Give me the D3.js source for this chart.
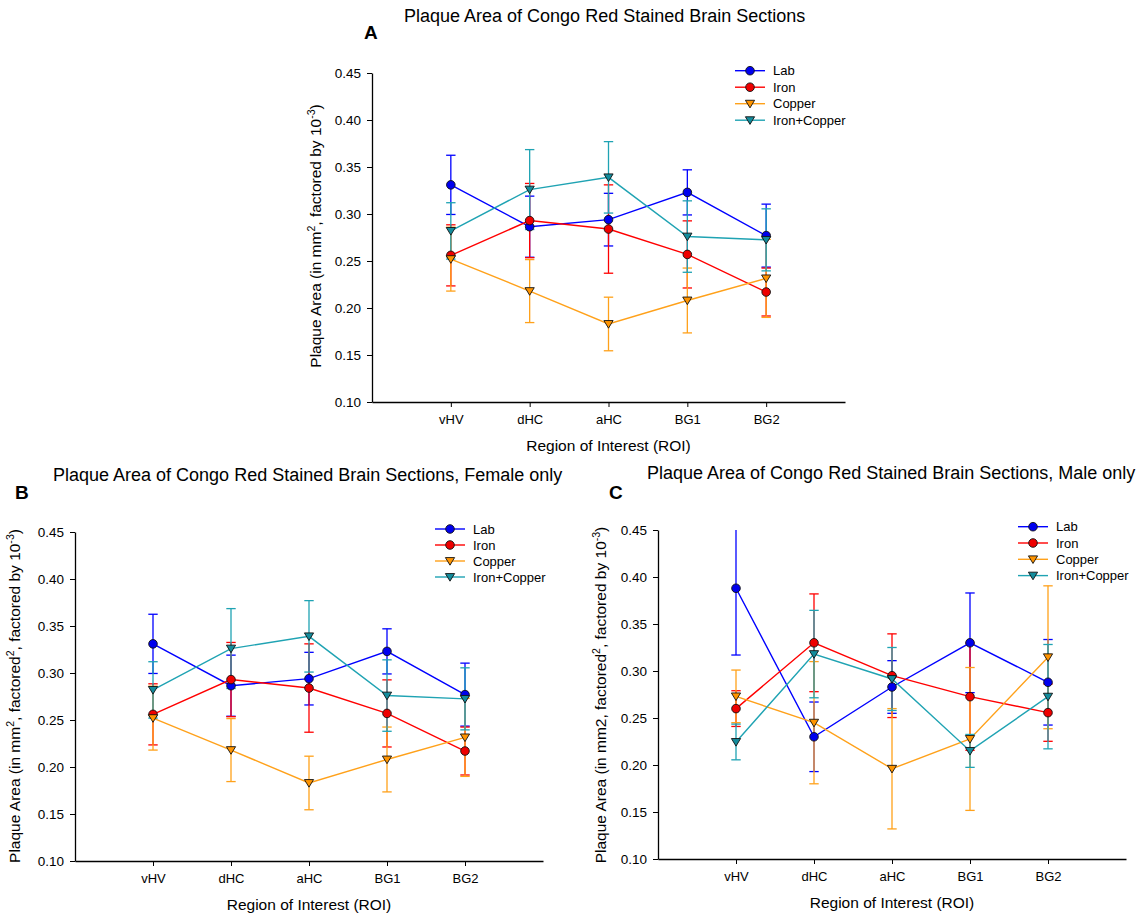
<!DOCTYPE html>
<html><head><meta charset="utf-8">
<script src="https://cdn.jsdelivr.net/npm/d3@7"></script>
<style>
html,body{margin:0;padding:0;background:#fff;}
svg{display:block;}
text{font-family:"Liberation Sans",Arial,sans-serif;fill:#000;}
</style></head>
<body>
<svg id="chart" width="1148" height="918"></svg>
<script>
// ---------- DATA ----------
const regions = ["vHV", "dHC", "aHC", "BG1", "BG2"];
const seriesNames = ["Lab", "Iron", "Copper", "Iron+Copper"];
const yTicks = [0.10, 0.15, 0.20, 0.25, 0.30, 0.35, 0.40, 0.45];

// All animals (panel A)
const allLab = [0.331, 0.2865, 0.294, 0.323, 0.277];
const allLabSE = [0.0315, 0.0325, 0.028, 0.024, 0.0335];
const allIron = [0.256, 0.293, 0.284, 0.257, 0.217];
const allIronSE = [0.0325, 0.0395, 0.047, 0.0357, 0.0255];
const allCopper = [0.252, 0.218, 0.183, 0.208, 0.2315];
const allCopperSE = [0.034, 0.0335, 0.0285, 0.0345, 0.0415];
const allIronCopper = [0.282, 0.326, 0.339, 0.276, 0.2725];
const allIronCopperSE = [0.030, 0.0425, 0.038, 0.038, 0.033];

// Female only (panel B) - same values as shown in the figure
const femLab = [0.331, 0.2865, 0.294, 0.323, 0.277];
const femLabSE = [0.0315, 0.0325, 0.028, 0.024, 0.0335];
const femIron = [0.256, 0.293, 0.284, 0.257, 0.217];
const femIronSE = [0.0325, 0.0395, 0.047, 0.0357, 0.0255];
const femCopper = [0.252, 0.218, 0.183, 0.208, 0.2315];
const femCopperSE = [0.034, 0.0335, 0.0285, 0.0345, 0.0415];
const femIronCopper = [0.282, 0.326, 0.339, 0.276, 0.2725];
const femIronCopperSE = [0.030, 0.0425, 0.038, 0.038, 0.033];

// Male only (panel C)
const maleLab = [0.388, 0.230, 0.283, 0.330, 0.288];
const maleLabSE = [0.071, 0.037, 0.028, 0.053, 0.0455];
const maleIron = [0.260, 0.330, 0.295, 0.2727, 0.2557];
const maleIronSE = [0.019, 0.052, 0.0445, 0.057, 0.0305];
const maleCopper = [0.273, 0.245, 0.196, 0.2277, 0.3146];
const maleCopperSE = [0.028, 0.065, 0.064, 0.076, 0.076];
const maleIronCopper = [0.2245, 0.318, 0.2915, 0.215, 0.2727];
const maleIronCopperSE = [0.019, 0.0465, 0.0335, 0.0175, 0.0555];

// ---------- STYLE ----------
const lineColors = ["#0000ff", "#ff0000", "#ffa11a", "#1fa3b3"];
const fillColors = ["#0000ee", "#ee0000", "#ff9400", "#138c9c"];
const shapes = ["circle", "circle", "tri", "tri"];

const svg = d3.select("#chart");
const FONT = '"Liberation Sans",Arial,sans-serif';

function richText(g, segs, size) {
  const t = g.append("text").attr("font-size", size);
  let shift = 0;
  segs.forEach(s => {
    const sp = t.append("tspan").text(s.t);
    if (s.sup) {
      sp.attr("font-size", size * 0.68).attr("dy", -size * 0.38);
      shift = size * 0.38;
    } else if (shift) {
      sp.attr("dy", shift);
      shift = 0;
    }
  });
  return t;
}

function marker(g, shape, x, y, fill) {
  if (shape === "circle") {
    g.append("circle").attr("cx", x).attr("cy", y).attr("r", 4.3)
      .attr("fill", fill).attr("stroke", "#111").attr("stroke-width", 0.9);
  } else {
    const w = 4.6, h = 7.6;
    g.append("path")
      .attr("d", `M${x - w},${y - h * 0.45}L${x + w},${y - h * 0.45}L${x},${y + h * 0.55}Z`)
      .attr("fill", fill).attr("stroke", "#111").attr("stroke-width", 0.9)
      .attr("stroke-linejoin", "miter");
  }
}

function drawPanel(cfg) {
  const g = svg.append("g");
  const x = d3.scaleLinear().domain([0, 6]).range([cfg.x0, cfg.x1]);
  const y = d3.scaleLinear().domain([0.10, 0.45]).range([cfg.yb, cfg.yt]);

  // Y axis
  const ya = g.append("g").attr("transform", `translate(${cfg.x0},0)`)
    .call(d3.axisLeft(y).tickValues(yTicks).tickFormat(d3.format(".2f"))
      .tickSize(5).tickPadding(6).tickSizeOuter(0));
  // X axis
  const xa = g.append("g").attr("transform", `translate(0,${cfg.yb})`)
    .call(d3.axisBottom(x).tickValues([1, 2, 3, 4, 5]).tickFormat(d => regions[d - 1])
      .tickSize(5).tickPadding(8).tickSizeOuter(0));
  [ya, xa].forEach(a => {
    a.select(".domain").attr("stroke", "#000").attr("stroke-width", 1.3);
    a.selectAll(".tick line").attr("stroke", "#000").attr("stroke-width", 1);
    a.selectAll("text").attr("font-family", FONT).attr("fill", "#111");
  });
  ya.selectAll("text").attr("font-size", 13.5);
  xa.selectAll("text").attr("font-size", 13);

  // clip
  const cid = "clip" + cfg.id;
  svg.append("clipPath").attr("id", cid).append("rect")
    .attr("x", cfg.x0).attr("y", cfg.yt).attr("width", cfg.x1 - cfg.x0).attr("height", cfg.yb - cfg.yt);
  const plot = g.append("g").attr("clip-path", `url(#${cid})`);

  cfg.series.forEach((s, i) => {
    const pts = s.mean.map((m, j) => ({ x: x(j + 1), y: y(m), hi: y(m + s.se[j]), lo: y(m - s.se[j]) }));
    const eg = plot.append("g").attr("stroke", lineColors[i]).attr("stroke-width", 1.3).attr("fill", "none");
    pts.forEach(p => {
      eg.append("line").attr("x1", p.x).attr("x2", p.x).attr("y1", p.hi).attr("y2", p.lo);
      eg.append("line").attr("x1", p.x - 4.7).attr("x2", p.x + 4.7).attr("y1", p.hi).attr("y2", p.hi);
      eg.append("line").attr("x1", p.x - 4.7).attr("x2", p.x + 4.7).attr("y1", p.lo).attr("y2", p.lo);
    });
    plot.append("path").datum(pts)
      .attr("d", d3.line().x(d => d.x).y(d => d.y))
      .attr("fill", "none").attr("stroke", lineColors[i]).attr("stroke-width", 1.4);
  });
  cfg.series.forEach((s, i) => {
    s.mean.forEach((m, j) => marker(g, shapes[i], x(j + 1), y(m), fillColors[i]));
  });

  // Legend
  seriesNames.forEach((n, i) => {
    const ly = cfg.legY + i * cfg.legDy;
    g.append("line").attr("x1", cfg.legX).attr("x2", cfg.legX + 30).attr("y1", ly).attr("y2", ly)
      .attr("stroke", lineColors[i]).attr("stroke-width", 1.4);
    marker(g, shapes[i], cfg.legX + 15, ly, fillColors[i]);
    g.append("text").attr("x", cfg.legX + 38).attr("y", ly + 4.5).attr("font-size", 13).text(n);
  });

  // Titles
  g.append("text").attr("x", cfg.titleX).attr("y", cfg.titleY).attr("font-size", 18).text(cfg.title);
  g.append("text").attr("x", cfg.letterX).attr("y", cfg.letterY)
    .attr("font-family", '"Liberation Serif","Times New Roman",serif').attr("font-weight", "bold")
    .attr("font-size", 19).text(cfg.letter);
  g.append("text").attr("x", x(3)).attr("y", cfg.yb + 49).attr("text-anchor", "middle")
    .attr("font-size", 15.5).text("Region of Interest (ROI)");
  const yt = richText(g, cfg.ySegs, 15.5)
    .attr("text-anchor", "middle")
    .attr("transform", `translate(${cfg.yTitleX},${cfg.yTitleY}) rotate(-90)`);
}

const segsA = [{ t: "Plaque Area (in mm" }, { t: "2", sup: true }, { t: ", factored by 10" }, { t: "-3", sup: true }, { t: ")" }];
const segsB = [{ t: "Plaque Area (in mm" }, { t: "2", sup: true }, { t: ", factored" }, { t: "2", sup: true }, { t: ", factored by 10" }, { t: "-3", sup: true }, { t: ")" }];
const segsC = [{ t: "Plaque Area (in mm2, factored" }, { t: "2", sup: true }, { t: ", factored by 10" }, { t: "-3", sup: true }, { t: ")" }];

drawPanel({
  id: "A", x0: 372, x1: 845, yb: 402, yt: 73,
  series: [
    { mean: allLab, se: allLabSE }, { mean: allIron, se: allIronSE },
    { mean: allCopper, se: allCopperSE }, { mean: allIronCopper, se: allIronCopperSE }],
  legX: 735, legY: 70.7, legDy: 16.5,
  title: "Plaque Area of Congo Red Stained Brain Sections", titleX: 404, titleY: 22,
  letter: "A", letterX: 364, letterY: 39,
  ySegs: segsA, yTitleX: 321, yTitleY: 236
});
drawPanel({
  id: "B", x0: 75, x1: 543, yb: 861, yt: 532,
  series: [
    { mean: femLab, se: femLabSE }, { mean: femIron, se: femIronSE },
    { mean: femCopper, se: femCopperSE }, { mean: femIronCopper, se: femIronCopperSE }],
  legX: 435, legY: 529, legDy: 16,
  title: "Plaque Area of Congo Red Stained Brain Sections, Female only", titleX: 53, titleY: 481,
  letter: "B", letterX: 15, letterY: 499,
  ySegs: segsB, yTitleX: 20, yTitleY: 696
});
drawPanel({
  id: "C", x0: 658, x1: 1126, yb: 859, yt: 530,
  series: [
    { mean: maleLab, se: maleLabSE }, { mean: maleIron, se: maleIronSE },
    { mean: maleCopper, se: maleCopperSE }, { mean: maleIronCopper, se: maleIronCopperSE }],
  legX: 1018, legY: 526.7, legDy: 16.3,
  title: "Plaque Area of Congo Red Stained Brain Sections, Male only", titleX: 647, titleY: 479,
  letter: "C", letterX: 609, letterY: 499,
  ySegs: segsC, yTitleX: 606, yTitleY: 695
});
</script>
</body></html>
